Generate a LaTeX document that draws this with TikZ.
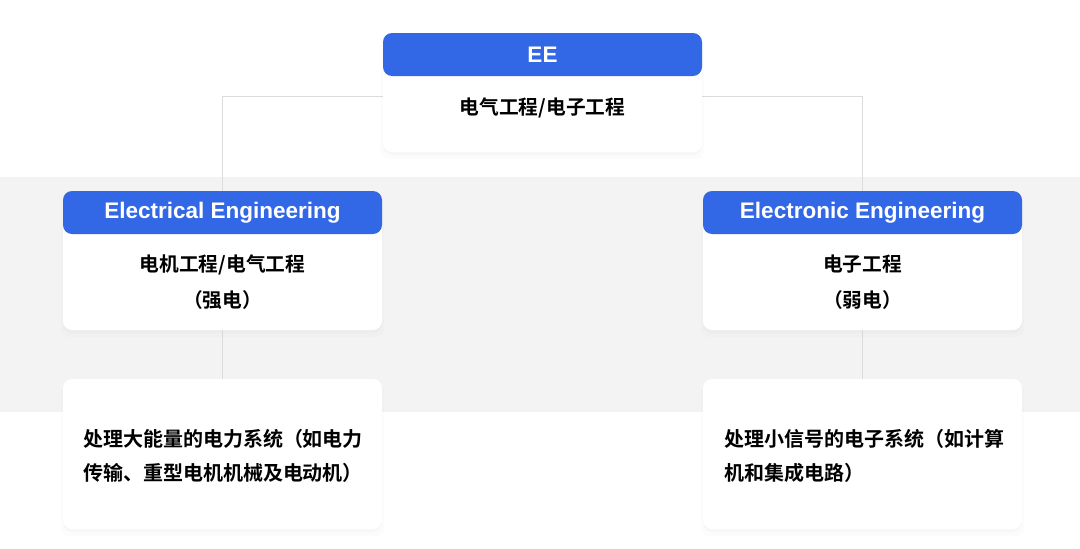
\documentclass[tikz,border=0pt]{standalone}
\usepackage{fontspec}
\setmainfont{Liberation Sans}
\newfontfamily\cjk{Noto Sans CJK SC}[BoldFont={Noto Sans CJK SC Bold}]
\usetikzlibrary{positioning,backgrounds,shadows}
\definecolor{eeblue}{HTML}{3267E6}
\definecolor{bandgray}{HTML}{F3F3F3}
\definecolor{linegray}{HTML}{DCDCDC}

\begin{document}
\begin{tikzpicture}[x=1pt,y=-1pt
    , every node/.style={inner sep=0pt,outer sep=0pt}
    , card/.style={fill=white,rounded corners=9pt,minimum width=319pt,
        drop shadow={shadow xshift=0pt,shadow yshift=-6pt,opacity=0.025,shadow scale=1.015},
        drop shadow={shadow xshift=0pt,shadow yshift=-3pt,opacity=0.035}}
    , head/.style={fill=eeblue,rounded corners=9pt,minimum width=319pt,
        minimum height=43pt,text=white,font=\fontsize{22.5}{26}\selectfont\bfseries}
    , body/.style={font=\cjk\bfseries\fontsize{19.7}{36}\selectfont,align=center}
    , note/.style={font=\cjk\bfseries\fontsize{20}{34}\selectfont,
        text width=285pt,align=left}
    , link/.style={draw=linegray,line width=0.8pt}
]
    \useasboundingbox (0,0) rectangle (1080,549);
    \edef\xl{222.5}
    \edef\xm{542.5}
    \edef\xr{862.5}

    % Top
    \node[card,minimum height=119pt,anchor=north] (eecard) at (\xm,33) {};
    \node[head,anchor=north] (eehead) at (eecard.north) {EE};
    \node[body] (eetext) at (\xm,107.5) {电气工程/电子工程};

    % Electrical
    \node[card,minimum height=139pt,anchor=north] (elcard) at (\xl,191) {};
    \node[head,anchor=north] (elhead) at (elcard.north) {Electrical Engineering};
    \node[body] (eltext) at (\xl,282.5) {电机工程/电气工程\\（强电）};

    \node[card,minimum height=150pt,anchor=north] (elnote) at (\xl,379) {};
    \node[note] (elnotetext) at (\xl+3,456)
        {处理大能量的电力系统（如电力\\传输、重型电机机械及电动机）};

    % Electronic
    \node[card,minimum height=139pt,anchor=north] (etcard) at (\xr,191) {};
    \node[head,anchor=north] (ethead) at (etcard.north) {Electronic Engineering};
    \node[body] (ettext) at (\xr,282.5) {电子工程\\（弱电）};

    \node[card,minimum height=150pt,anchor=north] (etnote) at (\xr,379) {};
    \node[note] (etnotetext) at (\xr+4,456)
        {处理小信号的电子系统（如计算\\机和集成电路）};

    % Links
    \begin{pgfonlayer}{background}
        \fill[white] (0,0) rectangle (1080,549);
        \fill[bandgray] (0,177) rectangle (1080,412);
        \coordinate (split) at (\xm,96);
        \draw[link] (elhead.north) |- (split) -| (ethead.north);
        \draw[link] (elcard.south) -- (elnote.north);
        \draw[link] (etcard.south) -- (etnote.north);
    \end{pgfonlayer}
\end{tikzpicture}
\end{document}
